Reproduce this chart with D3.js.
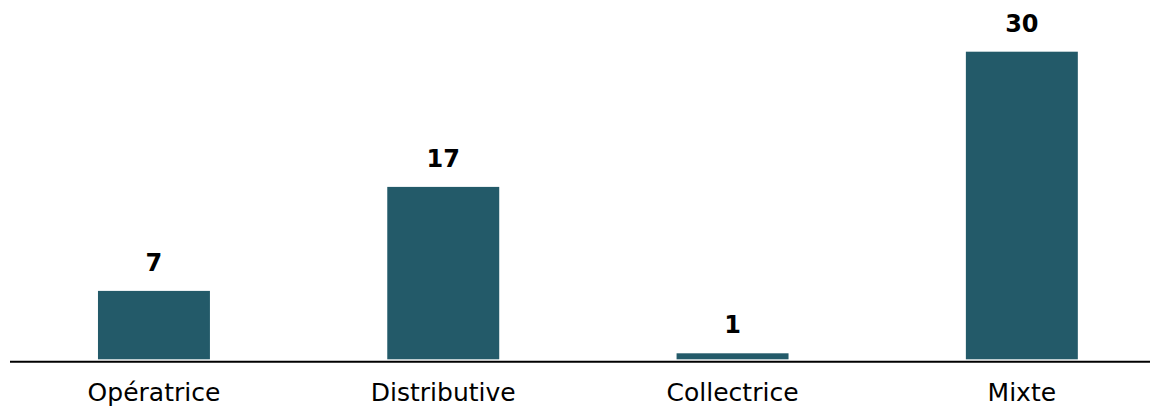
<!DOCTYPE html>
<html>
<head>
<meta charset="utf-8">
<script src="https://cdn.jsdelivr.net/npm/d3@7"></script>
<style>
  html, body { margin: 0; padding: 0; background: #fff; }
  svg { display: block; }
</style>
</head>
<body>
<svg id="chart" width="1150" height="408"></svg>
<script>
// Number of structures by type
const categories = ["Opératrice", "Distributive", "Collectrice", "Mixte"];
const values = [7, 17, 1, 30];

const W = 1150, H = 408;
const barColor = "#235a69";
const barBottom = 359.3;   // bars stop just above the baseline rule
const axisY = 361.7;

const svg = d3.select("#chart");

const x = d3.scaleBand()
  .domain(categories)
  .range([9.3, 1166.5])
  .paddingInner(0.613)
  .paddingOuter(0.3065);

const y = d3.scaleLinear()
  .domain([0, 30])
  .range([363.7, 51.7]);

const data = categories.map((c, i) => ({ cat: c, val: values[i] }));

// bars
svg.append("g")
  .selectAll("rect")
  .data(data)
  .join("rect")
  .attr("x", d => x(d.cat))
  .attr("width", x.bandwidth())
  .attr("y", d => y(d.val))
  .attr("height", d => barBottom - y(d.val))
  .attr("fill", barColor);

// value labels
svg.append("g")
  .selectAll("text")
  .data(data)
  .join("text")
  .attr("x", d => x(d.cat) + x.bandwidth() / 2)
  .attr("y", d => y(d.val) - 20)
  .attr("text-anchor", "middle")
  .attr("font-family", "'DejaVu Sans', sans-serif")
  .attr("font-weight", "bold")
  .attr("font-size", 24)
  .attr("fill", "#000")
  .text(d => d.val);

// baseline rule
svg.append("line")
  .attr("x1", 10).attr("x2", W)
  .attr("y1", axisY).attr("y2", axisY)
  .attr("stroke", "#000")
  .attr("stroke-width", 2);

// category labels
const xAxis = d3.axisBottom(x).tickSize(0).tickPadding(0);
const gx = svg.append("g")
  .attr("transform", `translate(0, ${axisY})`)
  .call(xAxis);
gx.select(".domain").remove();
gx.selectAll(".tick text")
  .attr("dy", null)
  .attr("y", 39)
  .attr("font-family", "'DejaVu Sans', sans-serif")
  .attr("font-size", 25)
  .attr("fill", "#000");
</script>
</body>
</html>
